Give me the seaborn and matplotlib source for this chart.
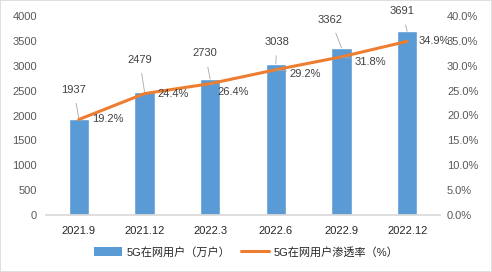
import numpy as np
import pandas as pd
import matplotlib
matplotlib.use("Agg")
import matplotlib.pyplot as plt
from matplotlib.patches import Patch, Rectangle
from matplotlib.lines import Line2D
from matplotlib.ticker import FuncFormatter
import seaborn as sns

# data
periods = ["2021.9", "2021.12", "2022.3", "2022.6", "2022.9", "2022.12"]
users = [1937, 2479, 2730, 3038, 3362, 3691]  # 5G在网用户（万户）
rates = [19.2, 24.4, 26.4, 29.2, 31.8, 34.9]  # 渗透率 %

bar_label = "5G在网用户（万户）"
line_label = "5G在网用户渗透率（%）"

# label offsets in pixels (dx, dy), dy positive = up
bar_off = [(-5, 29), (-5, 32), (-5, 26), (1, 22), (-11, 28), (-5, 20)]
rate_off = [(13, 0), (13, 0), (7, -8), (14, -4), (13, -5), (11, 0)]

sns.set_theme(style="white")
plt.rcParams["font.family"] = ["Liberation Sans", "Noto Sans CJK SC"]

blue = "#5B9BD5"
orange = "#ED7D31"
gray = "#595959"
fs = 8

fig = plt.figure(figsize=(4.92, 2.72), dpi=100)
ax = fig.add_axes([46 / 492, 1 - 215 / 272, (440 - 46) / 492, (215 - 16) / 272])

df = pd.DataFrame({"period": periods, "users": users, "rate": rates})
sns.barplot(data=df, x="period", y="users", color=blue, width=0.31, ax=ax, saturation=1)
ax.set_xlim(-0.5, len(periods) - 0.5)
ax.set_ylim(0, 4000)
ax.set_yticks(np.arange(0, 4001, 500))
ax.set_xlabel("")
ax.set_ylabel("")
for s in ["top", "right", "left"]:
    ax.spines[s].set_visible(False)
ax.spines["bottom"].set_color("#D9D9D9")
ax.tick_params(axis="y", length=0, labelsize=fs, labelcolor=gray, pad=6.5)
ax.tick_params(axis="x", length=0, labelsize=fs, labelcolor="#262626", pad=8)

ax2 = ax.twinx()
sns.lineplot(x=np.arange(len(periods)), y=rates, color=orange, linewidth=2.2, ax=ax2)
ax2.set_ylim(0, 40)
ax2.set_yticks(np.arange(0, 40.1, 5))
ax2.yaxis.set_major_formatter(FuncFormatter(lambda v, p: f"{v:.1f}%"))
for s in ["top", "right", "left", "bottom"]:
    ax2.spines[s].set_visible(False)
ax2.tick_params(axis="y", length=0, labelsize=fs, labelcolor=gray, pad=5)

px = 72 / 100  # pixels -> points

for i, v in enumerate(users):
    dx, dy = bar_off[i]
    ax.annotate(str(v), xy=(i, v), xytext=(dx * px, dy * px), textcoords="offset points",
                ha="center", va="center", fontsize=fs, color="#404040",
                arrowprops=dict(arrowstyle="-", color="#A6A6A6", lw=0.6,
                                shrinkA=4, shrinkB=0))

for i, v in enumerate(rates):
    dx, dy = rate_off[i]
    ax2.annotate(f"{v:.1f}%", xy=(i, v), xytext=(dx * px, dy * px), textcoords="offset points",
                 ha="left", va="center", fontsize=fs, color="#404040",
                 arrowprops=dict(arrowstyle="-", color="#A6A6A6", lw=0.6,
                                 shrinkA=0, shrinkB=0) if dy != 0 else None)

handles = [Patch(facecolor=blue, edgecolor="none"),
           Line2D([0], [0], color=orange, lw=2.2)]
leg = fig.legend(handles, [bar_label, line_label], loc="center", bbox_to_anchor=(0.5, 1 - 252 / 272),
                 ncol=2, frameon=False, fontsize=fs, handlelength=2.5, handleheight=0.8,
                 columnspacing=1.0, handletextpad=0.4)
for t in leg.get_texts():
    t.set_color("#262626")

fig.patches.append(Rectangle((0, 0), 1, 1, transform=fig.transFigure, fill=False,
                             edgecolor="#D9D9D9", lw=1.2))

fig.savefig("out.png", dpi=100)
